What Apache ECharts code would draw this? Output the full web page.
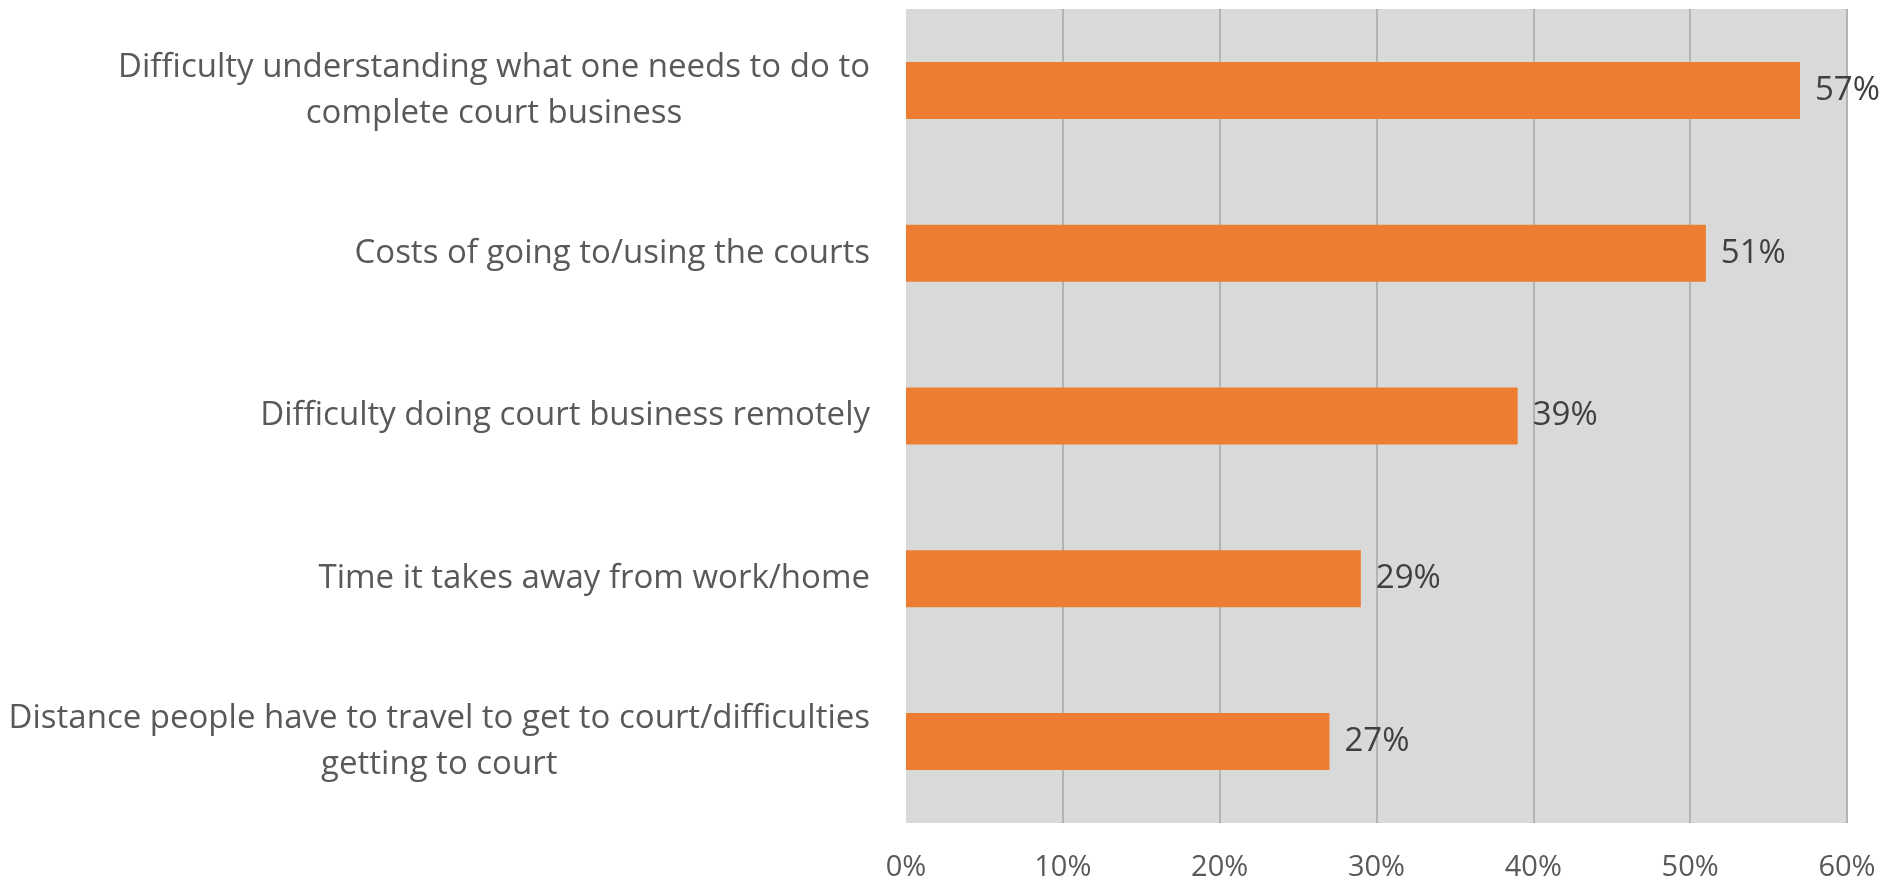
<!DOCTYPE html>
<html>
<head>
<meta charset="utf-8">
<script src="https://cdn.jsdelivr.net/npm/echarts@6/dist/echarts.min.js"></script>
<style>
  html, body { margin: 0; padding: 0; background: #fff; }
  #chart { width: 1900px; height: 877px; }
</style>
</head>
<body>
<div id="chart"></div>
<script>
const categories = [
  'Difficulty understanding what one needs to do to\ncomplete court business',
  'Costs of going to/using the courts',
  'Difficulty doing court business remotely',
  'Time it takes away from work/home',
  'Distance people have to travel to get to court/difficulties\ngetting to court'
]
const values = [57, 51, 39, 29, 27]
const xTicks = [0, 10, 20, 30, 40, 50, 60]

const myChart = echarts.init(document.getElementById('chart'))

myChart.setOption({
  animation: false,
  textStyle: { fontFamily: 'Open Sans' },
  grid: {
    left: 906,
    right: 53,
    top: 9,
    bottom: 54,
    outerBoundsMode: 'none',
    show: true,
    backgroundColor: '#D9D9D9',
    borderWidth: 0
  },
  xAxis: {
    type: 'value',
    min: xTicks[0],
    max: xTicks[xTicks.length - 1],
    interval: 10,
    axisLine: { show: false },
    axisTick: { show: false },
    splitLine: { show: true, showMinLine: false, lineStyle: { color: '#B3B3B3', width: 2 } },
    axisLabel: {
      formatter: '{value}%',
      fontSize: 29,
      color: '#595959',
      margin: 30
    }
  },
  yAxis: {
    type: 'category',
    inverse: true,
    data: categories,
    axisLine: { show: false },
    axisTick: { show: false },
    axisLabel: {
      margin: 36,
      formatter: (v) => v.split('\n').map(l => '{c|' + l + '}').join('\n'),
      rich: {
        c: {
          align: 'center',
          fontSize: 33,
          lineHeight: 46,
          color: '#595959',
          fontFamily: 'Open Sans'
        }
      }
    }
  },
  series: [{
    type: 'bar',
    data: values,
    barWidth: '35%',
    itemStyle: { color: '#ED7D31' },
    label: {
      show: true,
      position: 'right',
      distance: 15,
      formatter: '{c}%',
      fontSize: 33,
      color: '#404040'
    }
  }]
})
</script>
</body>
</html>
